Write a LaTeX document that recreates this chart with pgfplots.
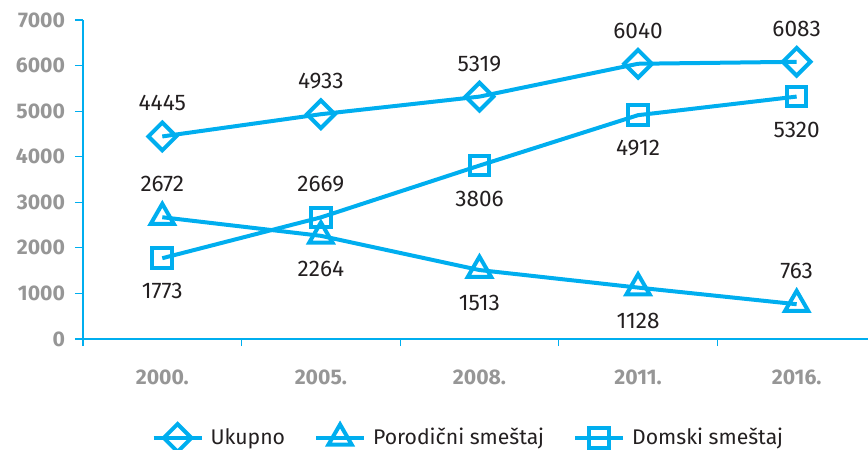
\documentclass[border=0pt]{standalone}
\usepackage{fontspec}
\setmainfont{Fira Sans}
\usepackage{pgfplots}
\pgfplotsset{compat=1.18}
\usepackage{pgfplotstable}
\definecolor{lineblue}{RGB}{0,174,239}
\definecolor{tickgray}{RGB}{150,150,150}
\definecolor{labeltext}{RGB}{35,31,32}

% pos: 1 = label above the point, -1 = below
\pgfplotstableread{
x y pos
0 4445 1
1 4933 1
2 5319 1
3 6040 1
4 6083 1
}\ukupno
\pgfplotstableread{
x y pos
0 2672 1
1 2264 -1
2 1513 -1
3 1128 -1
4 763 1
}\porodicni
\pgfplotstableread{
x y pos
0 1773 -1
1 2669 1
2 3806 -1
3 4912 -1
4 5320 -1
}\domski

\begin{document}
\begin{tikzpicture}
\path[use as bounding box] (-41.5pt,-55.5pt) rectangle (392.5pt,169.5pt);
\begin{axis}[
  at={(0,0)}, anchor=south west,
  scale only axis, width=392.5pt, height=159.5pt,
  xmin=-0.5, xmax=4.45, ymin=0, ymax=7000,
  axis x line*=bottom, axis y line*=left,
  axis line style={lineblue, line width=0.6pt},
  tick align=outside,
  tick style={lineblue, line width=0.6pt},
  major tick length=4pt, minor tick length=3.5pt,
  xtick={0,1,2,3,4},
  xticklabels={2000.,2005.,2008.,2011.,2016.},
  minor xtick={-0.5,0.5,1.5,2.5,3.5},
  major x tick style={draw=none},
  ytick={0,1000,...,7000},
  /pgf/number format/.cd, 1000 sep={}, assume math mode=true, /pgfplots/.cd,
  xticklabel style={font=\fontsize{10.6}{12}\selectfont\bfseries, text=tickgray, anchor=center, inner sep=0pt, yshift=-15pt},
  yticklabel style={font=\fontsize{10.6}{12}\selectfont\bfseries, text=tickgray, anchor=east, inner sep=0pt, xshift=-4.8pt},
  every axis plot/.append style={lineblue, line width=2pt, mark options={fill=white, solid}},
  nodes near coords,
  visualization depends on={\thisrow{pos} \as \lblpos},
  every node near coord/.append style={font=\fontsize{11.3}{13}\selectfont, text=labeltext, anchor=center, yshift=\lblpos*16.5pt},
  legend columns=-1,
  legend style={at={(0.494,-0.31)}, anchor=center, draw=none, fill=none,
    font=\fontsize{10.6}{13}\selectfont, text=labeltext,
    /tikz/every even column/.append style={column sep=11pt},
    nodes={inner xsep=3.5pt}},
  legend image code/.code={\draw[mark repeat=2, mark phase=2] plot coordinates {(0pt,0pt)(12pt,0pt)(24pt,0pt)};},
  clip=false,
]
  \addplot[mark=square, mark size=4.9pt, mark options={rotate=45}] table[x=x, y=y] {\ukupno};
  \addlegendentry{Ukupno}
  \addplot[mark=triangle, mark size=6.7pt] table[x=x, y=y] {\porodicni};
  \addlegendentry{Porodični smeštaj}
  \addplot[mark=square, mark size=4.9pt] table[x=x, y=y] {\domski};
  \addlegendentry{Domski smeštaj}
\end{axis}
\end{tikzpicture}
\end{document}
